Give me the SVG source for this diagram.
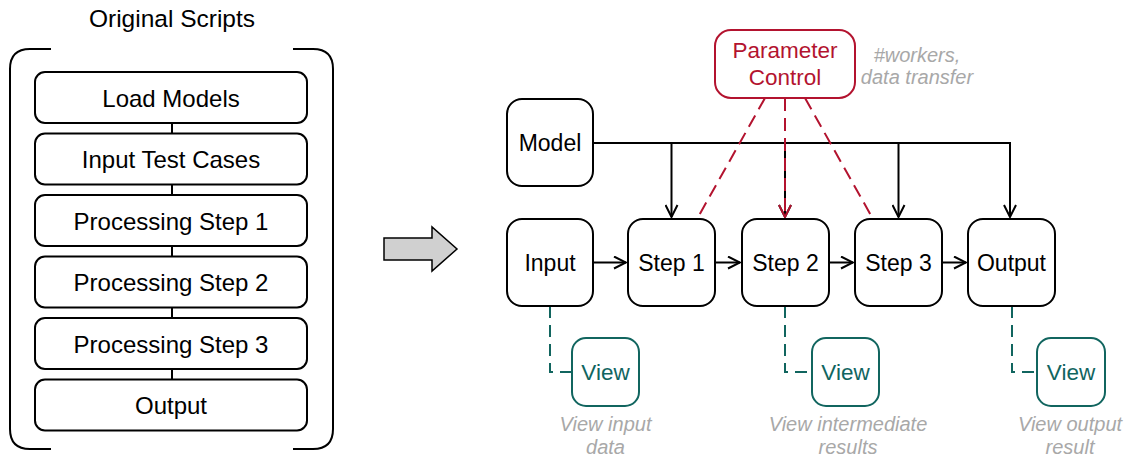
<svg xmlns="http://www.w3.org/2000/svg" width="1125" height="456" viewBox="0 0 1125 456">
  <style>
    text { font-family: "Liberation Sans", Arial, Helvetica, sans-serif; }
    .box { fill: #ffffff; stroke: #000000; stroke-width: 2; }
    .lbl { font-size: 24px; fill: #000000; text-anchor: middle; }
    .title { font-size: 24.5px; fill: #000000; text-anchor: middle; }
    .nlbl { font-size: 23px; fill: #000000; text-anchor: middle; }
    .edge { fill: none; stroke: #000000; stroke-width: 2; }
    .ctrl-box { fill: #ffffff; stroke: #b3132f; stroke-width: 2; }
    .ctrl-txt { font-size: 22.5px; fill: #b3132f; text-anchor: middle; }
    .ctrl-edge { fill: none; stroke: #b3132f; stroke-width: 2; stroke-dasharray: 13 7; }
    .view-box { fill: #ffffff; stroke: #11655f; stroke-width: 2; }
    .view-txt { font-size: 22.5px; fill: #11655f; text-anchor: middle; }
    .view-edge { fill: none; stroke: #11655f; stroke-width: 2; stroke-dasharray: 12 7; }
    .note { font-size: 20px; font-style: italic; fill: #a8a8a8; text-anchor: middle; }
  </style>
  <defs>
    <marker id="arrow" markerUnits="userSpaceOnUse" markerWidth="16" markerHeight="14" viewBox="0 0 16 14" refX="14" refY="7" orient="auto">
      <path d="M2,1 L14,7 L2,13" fill="none" stroke="#000000" stroke-width="2"/>
    </marker>
    <marker id="arrow-red" markerUnits="userSpaceOnUse" markerWidth="16" markerHeight="14" viewBox="0 0 16 14" refX="14" refY="7" orient="auto">
      <path d="M2,1 L14,7 L2,13" fill="none" stroke="#b3132f" stroke-width="2"/>
    </marker>
  </defs>

  <!-- Left panel: sequential scripts -->
  <g id="original-scripts">
    <text class="title" x="172" y="27">Original Scripts</text>
    <path class="edge" d="M51,49 H30 Q10,49 10,69 V429 Q10,449 30,449 H51"/>
    <path class="edge" d="M293,49 H313 Q333,49 333,69 V429 Q333,449 313,449 H293"/>
    <g class="edge">
      <line x1="172" y1="123" x2="172" y2="133.5"/>
      <line x1="172" y1="184.5" x2="172" y2="195"/>
      <line x1="172" y1="246" x2="172" y2="256.5"/>
      <line x1="172" y1="307.5" x2="172" y2="318"/>
      <line x1="172" y1="369" x2="172" y2="379.5"/>
    </g>
  </g>
  <g id="script-load-models">
    <rect class="box" x="35" y="72" width="272" height="51" rx="10"/>
    <text class="lbl" x="171" y="106.5">Load Models</text>
  </g>
  <g id="script-input-test-cases">
    <rect class="box" x="35" y="133.5" width="272" height="51" rx="10"/>
    <text class="lbl" x="171" y="168">Input Test Cases</text>
  </g>
  <g id="script-step-1">
    <rect class="box" x="35" y="195" width="272" height="51" rx="10"/>
    <text class="lbl" x="171" y="229.5">Processing Step 1</text>
  </g>
  <g id="script-step-2">
    <rect class="box" x="35" y="256.5" width="272" height="51" rx="10"/>
    <text class="lbl" x="171" y="291">Processing Step 2</text>
  </g>
  <g id="script-step-3">
    <rect class="box" x="35" y="318" width="272" height="51" rx="10"/>
    <text class="lbl" x="171" y="352.5">Processing Step 3</text>
  </g>
  <g id="script-output">
    <rect class="box" x="35" y="379.5" width="272" height="51" rx="10"/>
    <text class="lbl" x="171" y="414">Output</text>
  </g>

  <!-- Transformation arrow -->
  <g id="transform-arrow">
    <path d="M384,238 H432 V227 L457,249 L432,271 V260 H384 Z" fill="#d0d0d0" stroke="#000000" stroke-width="1.5" stroke-linejoin="miter"/>
  </g>

  <!-- Connectors -->
  <g id="connectors">
    <!-- model broadcast -->
    <path class="edge" d="M593,143 H1010 V217" marker-end="url(#arrow)"/>
    <line class="edge" x1="671.5" y1="143" x2="671.5" y2="217" marker-end="url(#arrow)"/>
    <line class="edge" x1="785" y1="143" x2="785" y2="217" marker-end="url(#arrow)"/>
    <line class="edge" x1="898.5" y1="143" x2="898.5" y2="217" marker-end="url(#arrow)"/>
    <!-- pipeline flow -->
    <line class="edge" x1="593" y1="262.5" x2="626" y2="262.5" marker-end="url(#arrow)"/>
    <line class="edge" x1="715" y1="262.5" x2="740" y2="262.5" marker-end="url(#arrow)"/>
    <line class="edge" x1="829" y1="262.5" x2="853" y2="262.5" marker-end="url(#arrow)"/>
    <line class="edge" x1="942" y1="262.5" x2="966" y2="262.5" marker-end="url(#arrow)"/>
    <!-- parameter control -->
    <line class="ctrl-edge" x1="765" y1="98" x2="697" y2="219"/>
    <line class="ctrl-edge" x1="785" y1="98" x2="785" y2="217" marker-end="url(#arrow-red)"/>
    <line class="ctrl-edge" x1="805" y1="98" x2="873" y2="219"/>
    <!-- view taps -->
    <path class="view-edge" d="M550,306 V372 H572"/>
    <path class="view-edge" d="M785,306 V372 H812"/>
    <path class="view-edge" d="M1012,306 V372 H1037"/>
  </g>

  <!-- Right panel nodes -->
  <g id="param-control">
    <rect class="ctrl-box" x="715" y="30" width="140" height="68" rx="16"/>
    <text class="ctrl-txt" x="785" y="58">Parameter</text>
    <text class="ctrl-txt" x="785" y="85">Control</text>
  </g>
  <g id="param-note">
    <text class="note" x="917" y="62">#workers,</text>
    <text class="note" x="917" y="84">data transfer</text>
  </g>
  <g id="model">
    <rect class="box" x="507" y="99" width="86" height="87" rx="15"/>
    <text class="nlbl" x="550" y="151">Model</text>
  </g>
  <g id="input">
    <rect class="box" x="507" y="219" width="86" height="87" rx="15"/>
    <text class="nlbl" x="550" y="271">Input</text>
  </g>
  <g id="step-1">
    <rect class="box" x="628" y="219" width="87" height="87" rx="15"/>
    <text class="nlbl" x="671.5" y="271">Step 1</text>
  </g>
  <g id="step-2">
    <rect class="box" x="742" y="219" width="87" height="87" rx="15"/>
    <text class="nlbl" x="785.5" y="271">Step 2</text>
  </g>
  <g id="step-3">
    <rect class="box" x="855" y="219" width="87" height="87" rx="15"/>
    <text class="nlbl" x="898.5" y="271">Step 3</text>
  </g>
  <g id="output">
    <rect class="box" x="968" y="219" width="87" height="87" rx="15"/>
    <text class="nlbl" x="1011.5" y="271">Output</text>
  </g>
  <g id="view-input">
    <rect class="view-box" x="572" y="338" width="67" height="68" rx="14"/>
    <text class="view-txt" x="605.5" y="380">View</text>
    <text class="note" x="605.5" y="431">View input</text>
    <text class="note" x="605.5" y="454">data</text>
  </g>
  <g id="view-intermediate">
    <rect class="view-box" x="812" y="338" width="67" height="68" rx="14"/>
    <text class="view-txt" x="845.5" y="380">View</text>
    <text class="note" x="848" y="431">View intermediate</text>
    <text class="note" x="848" y="454">results</text>
  </g>
  <g id="view-output">
    <rect class="view-box" x="1037" y="338" width="68" height="68" rx="14"/>
    <text class="view-txt" x="1071" y="380">View</text>
    <text class="note" x="1070" y="431">View output</text>
    <text class="note" x="1070" y="454">result</text>
  </g>
</svg>
